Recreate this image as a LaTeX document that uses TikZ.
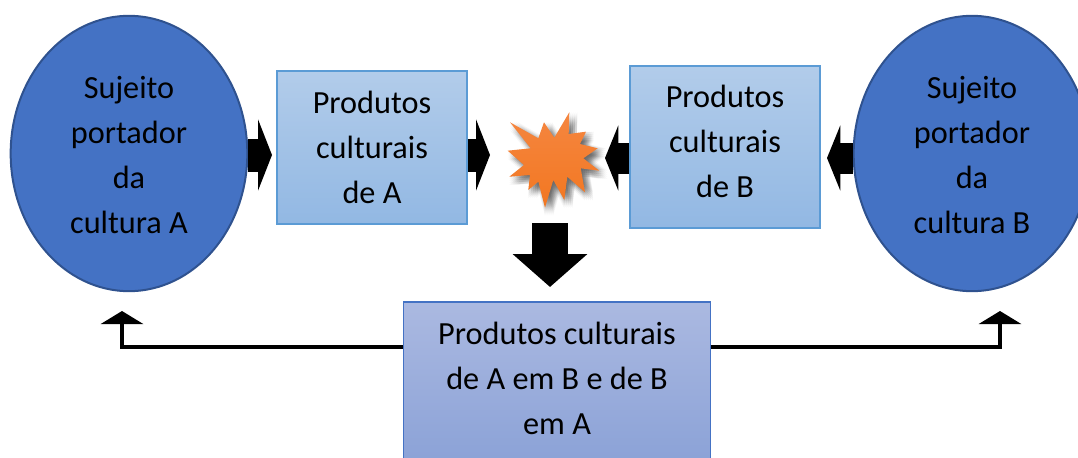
\documentclass[tikz,border=0pt]{standalone}
\usepackage{fontspec}
\setmainfont{Carlito}
\usetikzlibrary{arrows.meta,shapes.geometric}
\definecolor{circfill}{HTML}{4472C4}
\definecolor{circline}{HTML}{2F528F}
\definecolor{boxline}{HTML}{5B9BD5}
\definecolor{lowline}{HTML}{4472C4}
\definecolor{boxtop}{HTML}{B2CCEA}
\definecolor{boxbot}{HTML}{92B8E3}
\definecolor{lowtop}{HTML}{ABB9E1}
\definecolor{lowbot}{HTML}{8BA2D7}
\definecolor{startop}{HTML}{F58640}
\definecolor{starbot}{HTML}{F27721}
\def\starpath{(510,122.3) -- (538.3,138.3) -- (544,122.3) -- (554.3,137.7) -- (569.3,112.3) -- (568.7,134) -- (586,131.7) -- (580,144) -- (597.7,148.3) -- (583.3,158.3) -- (599.3,170.7) -- (580.7,168.3) -- (585,192.3) -- (567.3,176.7) -- (564.3,200) -- (553.3,180) -- (545,207.7) -- (538.3,181.7) -- (528.3,190) -- (530,175) -- (509.3,176.7) -- (524,165) -- (507.7,150.7) -- (530.7,148.3) -- cycle}
\tikzset{
  x=0.75pt,y=-0.75pt,
  label text/.style={font=\fontsize{24.2}{33.75}\selectfont,align=center,text=black,inner sep=0pt},
  culture/.style={ellipse,draw=circline,line width=1.5pt,fill=circfill,minimum width=177.5pt,minimum height=206.5pt,inner sep=0pt},
  upper box/.style={rectangle,draw=boxline,line width=0.9pt,top color=boxtop,bottom color=boxbot,minimum width=142.5pt,inner sep=0pt},
  block/.style={line width=24.75pt,line cap=butt,-{Triangle[length=10.5pt,width=53.25pt]}},
  block short/.style={line width=23.25pt,line cap=butt,-{Triangle[length=10pt,width=48.75pt]}},
  block down/.style={line width=27pt,line cap=butt,-{Triangle[length=24.75pt,width=54.75pt]}},
  feedback/.style={line width=3pt,-{Triangle[length=9.75pt,width=31.5pt]}}
}
\begin{document}
\begin{tikzpicture}
\useasboundingbox (0,0) rectangle (1078,457);
\clip (0,0) rectangle (1078,457);
\node[culture,label={[label text,yshift=-1.5pt]center:{Sujeito\\portador\\da\\cultura A}}] (ca) at (129,153.5) {};
\node[culture,label={[label text,yshift=-1.5pt]center:{Sujeito\\portador\\da\\cultura B}}] (cb) at (972,153.5) {};
\node[upper box,minimum height=114.75pt,label={[label text]center:{Produtos\\culturais\\de A}}] (pa) at (372,147.5) {};
\node[upper box,minimum height=121.5pt,label={[label text,yshift=4.5pt]center:{Produtos\\culturais\\de B}}] (pb) at (725,147) {};
\node[rectangle,draw=lowline,line width=0.9pt,top color=lowtop,bottom color=lowbot,minimum width=230.25pt,minimum height=120pt,inner sep=0pt,label={[label text,yshift=2.6pt]center:{Produtos culturais\\de A em B e de B\\em A}}] (pc) at (557,382) {};
\foreach \dx in {0,2,4,6,8}{
  \foreach \dy in {0,2,4,6,8}{
    \begin{scope}[xshift=\dx*0.75pt,yshift=-\dy*0.75pt]
      \fill[black,opacity=0.035] \starpath;
    \end{scope}
  }
}
\shade[top color=startop,bottom color=starbot] \starpath;
\coordinate (tipa) at (272,155);
\coordinate (tipb) at (490,155);
\coordinate (tipc) at (605,158);
\coordinate (tipd) at (827,158);
\coordinate (downs) at (550,223);
\coordinate (downe) at (550,287);
\coordinate (fa) at (122,311);
\coordinate (fb) at (1000,311);
\coordinate (fy) at (0,346.5);
\draw[block] (ca.east |- tipa) -- (tipa);
\draw[block] (pa.east |- tipb) -- (tipb);
\draw[block short] (pb.west |- tipc) -- (tipc);
\draw[block short] (cb.west |- tipd) -- (tipd);
\draw[block down] (downs) -- (downe);
\draw[feedback] (pc.west |- fy) -| (fa);
\draw[feedback] (pc.east |- fy) -| (fb);
\end{tikzpicture}
\end{document}
